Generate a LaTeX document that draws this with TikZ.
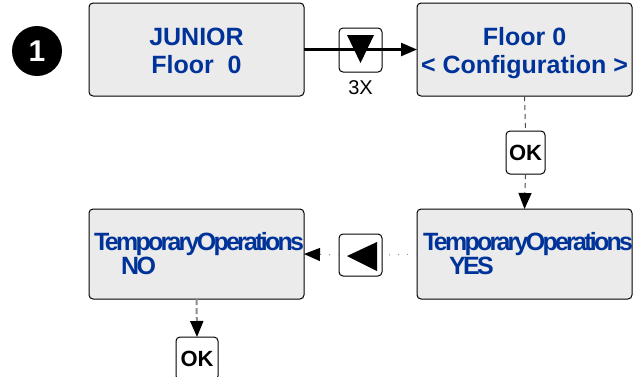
\documentclass[tikz,border=0pt]{standalone}
\usepackage{fontspec}
\setmainfont{Liberation Sans}
\newfontfamily\tightfont[LetterSpace=-11]{Liberation Sans}
\usetikzlibrary{arrows.meta,calc}
\definecolor{screenblue}{RGB}{0,51,153}
\definecolor{screenfill}{RGB}{235,235,235}
\tikzset{
  screen/.style={draw=black, line width=1pt, fill=screenfill, rounded corners=4pt,
    inner sep=0pt, outer sep=0pt},
  keybtn/.style={draw=black, line width=1pt, fill=white, rounded corners=4pt,
    inner sep=0pt, outer sep=0pt},
  scrtext/.style={text=screenblue, font=\fontsize{25}{25}\selectfont\bfseries, inner sep=0pt, anchor=base},
  tighttext/.style={text=screenblue, font=\fontsize{25}{25}\selectfont\tightfont\bfseries, inner sep=0pt, anchor=base west},
  keytext/.style={font=\fontsize{22}{22}\selectfont\bfseries, inner sep=0pt},
  tip/.style={-{Triangle[length=16pt,width=13pt,color=black]}},
  mainflow/.style={line width=2.5pt, tip},
  okflow/.style={draw=black!70, line width=1pt, dash pattern=on 5pt off 4pt},
  dotflow/.style={draw=black!45, line width=1pt, dash pattern=on 1pt off 8pt},
  grayflow/.style={draw=black!45, line width=2pt, dash pattern=on 6pt off 3pt},
}
\begin{document}
\begin{tikzpicture}[x=1pt, y=-1pt]
\useasboundingbox (0,0) rectangle (636,376);
\clip (0,0) rectangle (636,376);

% step number
\node[circle, fill=black, minimum size=50pt, inner sep=0pt, text=white,
  font=\fontsize{30}{30}\selectfont\bfseries] (stepnum) at (37,51) {1};

% display screens
\node[screen, minimum width=215pt, minimum height=93pt] (s1) at (196.5,49.5) {};
\node[screen, minimum width=215pt, minimum height=93pt] (s2) at (524.5,49.5) {};
\node[screen, minimum width=215pt, minimum height=90pt] (s3) at (196.5,254) {};
\node[screen, minimum width=215pt, minimum height=90pt] (s4) at (524.5,254) {};

% screen texts
\node[scrtext] (s1a) at (196.5,45) {JUNIOR};
\node[scrtext] (s1b) at (196.5,73) {Floor\ \ 0};
\node[scrtext] (s2a) at (524.5,45) {Floor 0};
\node[scrtext] (s2b) at (524.5,73) {< Configuration >};
\node[tighttext] (s3a) at (94,250) {TemporaryOperations};
\node[tighttext] (s3b) at (121,274) {NO};
\node[tighttext] (s4a) at (423,250) {TemporaryOperations};
\node[tighttext] (s4b) at (449,274) {YES};

% keys
\node[keybtn, minimum width=43pt, minimum height=44pt] (kdown) at (360.5,50) {};
\fill[black] ($(kdown.center)+(-13.5,-15)$) -- ++(27,0) -- ($(kdown.center)+(0,13)$) -- cycle;
\node[inner sep=0pt, anchor=base, font=\fontsize{20}{20}\selectfont] (times) at (360.5,94) {3X};

\node[keybtn, minimum width=39pt, minimum height=43pt] (ok1) at (525.5,152.5) {};
\node[keytext] (ok1t) at (ok1.center) {OK};

\node[keybtn, minimum width=43pt, minimum height=42pt] (kleft) at (360.5,255) {};
\fill[black] ($(kleft.center)+(-13.5,1)$) -- ($(kleft.center)+(16.5,-13)$) -- ($(kleft.center)+(16.5,16)$) -- cycle;

\node[keybtn, minimum width=42pt, minimum height=43pt] (ok2) at (197,358.5) {};
\node[keytext] (ok2t) at (ok2.center) {OK};

% connectors
\draw[mainflow] (s1.east) -- (s2.west);
\draw[okflow] (s2.south) -- (ok1.north);
\draw[okflow, tip] (ok1.south) -- (s4.north);
\draw[dotflow] (s4.west) -- (kleft.east);
\draw[dotflow, tip] (kleft.west) -- (s3.east);
\draw[grayflow, tip] (s3.south) -- (ok2.north);
\end{tikzpicture}
\end{document}
